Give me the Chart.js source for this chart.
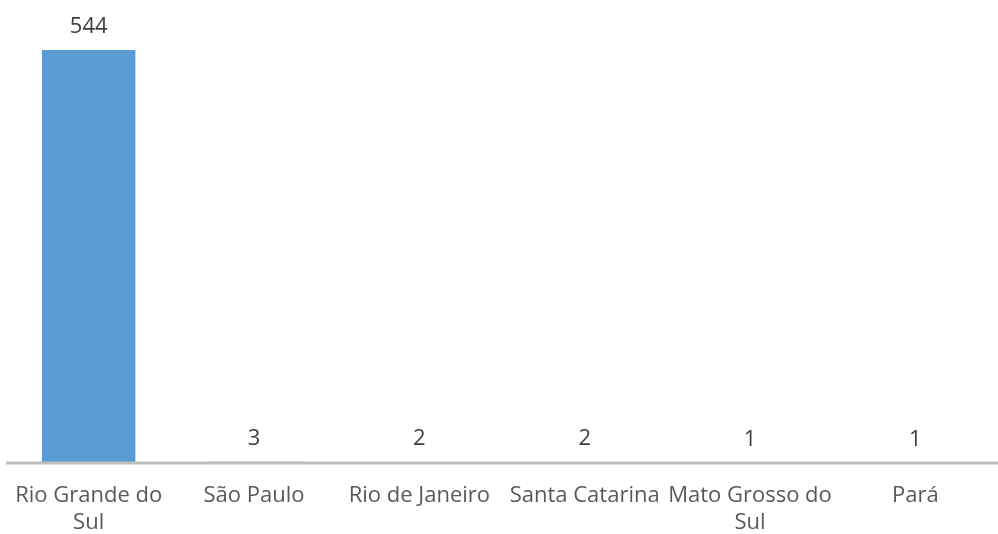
<!DOCTYPE html>
<html lang="pt-BR">
<head>
    <meta charset="UTF-8">
    <title>Estados</title>
    <script src="https://cdn.jsdelivr.net/npm/chart.js"></script>
    <style>
        html, body { margin: 0; padding: 0; background: #fff; }
        #wrap { width: 998px; height: 534px; }
    </style>
</head>
<body>
    <div id="wrap"><canvas id="chart"></canvas></div>
    <script>
        const estados = [['Rio Grande do', 'Sul'], 'São Paulo', 'Rio de Janeiro', 'Santa Catarina', ['Mato Grosso do', 'Sul'], 'Pará'];
        const totais = [544, 3, 2, 2, 1, 1];

        // linha do eixo por cima das barras + rótulos de valor
        const rotulos = {
            id: 'rotulos',
            afterDatasetsDraw(chart) {
                const ctx = chart.ctx;
                const area = chart.chartArea;
                const meta = chart.getDatasetMeta(0);
                ctx.save();
                ctx.strokeStyle = '#BFBFBF';
                ctx.lineWidth = 3;
                ctx.beginPath();
                ctx.moveTo(area.left, area.bottom - 1);
                ctx.lineTo(area.right, area.bottom - 1);
                ctx.stroke();

                ctx.font = '22px "Open Sans"';
                ctx.fillStyle = '#404040';
                ctx.textAlign = 'center';
                ctx.textBaseline = 'alphabetic';
                meta.data.forEach((bar, i) => {
                    ctx.fillText(totais[i], bar.x, bar.y - 17);
                });
                ctx.restore();
            }
        };

        new Chart(document.getElementById('chart'), {
            type: 'bar',
            data: {
                labels: estados,
                datasets: [{
                    data: totais,
                    backgroundColor: '#5B9BD5',
                    borderWidth: 0,
                    categoryPercentage: 1,
                    barPercentage: 0.565
                }]
            },
            options: {
                responsive: true,
                maintainAspectRatio: false,
                animation: false,
                layout: { padding: { top: 50, left: 6, right: 0, bottom: 0 } },
                plugins: { legend: { display: false }, tooltip: { enabled: false } },
                scales: {
                    x: {
                        grid: { display: false },
                        border: { display: false },
                        ticks: {
                            color: '#595959',
                            font: { family: 'Open Sans', size: 22 },
                            padding: 11,
                            maxRotation: 0,
                            autoSkip: false
                        },
                        afterFit(scale) { scale.height = 70; }
                    },
                    y: {
                        display: false,
                        min: 0,
                        max: 544
                    }
                }
            },
            plugins: [rotulos]
        });
    </script>
</body>
</html>
